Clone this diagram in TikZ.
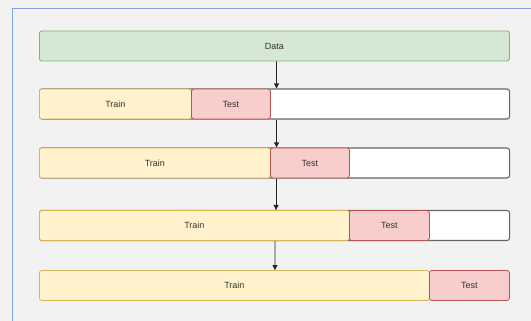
\documentclass[tikz,border=0pt]{standalone}
\usepackage{fontspec}
\setmainfont{Liberation Sans}
\usetikzlibrary{arrows.meta}
\definecolor{bgcol}{HTML}{F2F2F2}
\definecolor{framecol}{HTML}{7EA6E0}
\definecolor{datafill}{HTML}{D5E8D4}
\definecolor{dataline}{HTML}{82B366}
\definecolor{trainfill}{HTML}{FFF2CC}
\definecolor{trainline}{HTML}{D6B656}
\definecolor{testfill}{HTML}{F8CECC}
\definecolor{testline}{HTML}{B85450}
\definecolor{slotline}{HTML}{666666}
\definecolor{labelcol}{HTML}{333333}
\tikzset{
  bar/.style={rounded corners=2.5pt, line width=0.8pt, minimum height=30pt,
    inner sep=0pt, font=\fontsize{9}{10}\selectfont, text=labelcol, anchor=west},
  databox/.style={bar, fill=datafill, draw=dataline},
  slotbox/.style={bar, fill=white, draw=slotline, line width=1.1pt},
  trainbox/.style={bar, fill=trainfill, draw=trainline},
  testbox/.style={bar, fill=testfill, draw=testline},
  flow/.style={-{Triangle[length=5pt,width=5pt]}, line width=0.8pt, draw=black!85},
}
\begin{document}
\begin{tikzpicture}[x=1pt, y=-1pt]
  \fill[bgcol] (0,0) rectangle (531,321);
  \useasboundingbox (0,0) rectangle (531,321);
  % outer frame, running off the right and bottom edges
  \draw[framecol, line width=0.8pt] (12,330) -- (12,8) -- (540,8);

  % source data
  \node[databox, minimum width=470pt] (data) at (39,46) {Data};

  % split 1
  \node[slotbox, minimum width=470pt] (r1) at (39,104) {};
  \node[trainbox, minimum width=152pt] (tr1) at (39,104) {Train};
  \node[testbox, minimum width=79pt] (te1) at (191,104) {Test};

  % split 2
  \node[slotbox, minimum width=470pt] (r2) at (39,163) {};
  \node[trainbox, minimum width=231pt] (tr2) at (39,163) {Train};
  \node[testbox, minimum width=79pt] (te2) at (270,163) {Test};

  % split 3
  \node[slotbox, minimum width=470pt] (r3) at (39,225.5) {};
  \node[trainbox, minimum width=310pt] (tr3) at (39,225.5) {Train};
  \node[testbox, minimum width=80pt] (te3) at (349,225.5) {Test};

  % split 4
  \node[bar, minimum width=470pt] (r4) at (39,285.5) {};
  \node[trainbox, minimum width=390pt] (tr4) at (39,285.5) {Train};
  \node[testbox, minimum width=80pt] (te4) at (429,285.5) {Test};

  % connectors
  \draw[flow] ([xshift=2pt]data.south) -- ([xshift=2pt]r1.north);
  \draw[flow] ([xshift=2pt]r1.south) -- ([xshift=2pt]r2.north);
  \draw[flow] ([xshift=1.5pt]r2.south) -- ([xshift=1.5pt]r3.north);
  \draw[flow] ([xshift=0.5pt]r3.south) -- ([xshift=0.5pt]r4.north);
\end{tikzpicture}
\end{document}
